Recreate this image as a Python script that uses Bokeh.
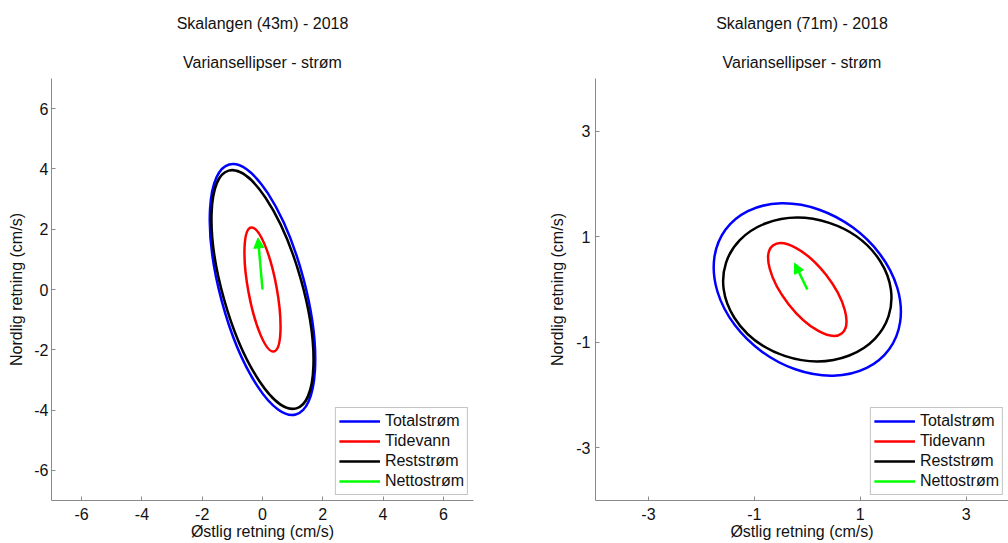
import numpy as np
from bokeh.plotting import figure
from bokeh.models import Title, Legend, LegendItem, Arrow, NormalHead, FixedTicker, Range1d
from bokeh.layouts import row
from bokeh.embed import file_html
from bokeh.resources import INLINE

FONT = "Liberation Sans"

# ---- data -------------------------------------------------------------
series_names = ["Totalstrøm", "Tidevann", "Reststrøm"]
series_colors = ["#0000ff", "#ff0000", "#000000"]
net_name = "Nettostrøm"
net_color = "#00ff00"

x_label = "Østlig retning (cm/s)"
y_label = "Nordlig retning (cm/s)"
subtitle = "Variansellipser - strøm"

# Skalangen 43 m
title_43 = "Skalangen (43m) - 2018"
ticks_43 = [-6, -4, -2, 0, 2, 4, 6]
center_x_43 = [0.0, 0.0, 0.0]
center_y_43 = [0.0, 0.0, 0.0]
semi_major_43 = [4.29, 2.09, 4.10]
semi_minor_43 = [1.405, 0.473, 1.316]
angle_deg_43 = [-75.1, -79.6, -74.1]
net_east_43 = -0.15
net_north_43 = 1.71

# Skalangen 71 m
title_71 = "Skalangen (71m) - 2018"
ticks_71 = [-3, -1, 1, 3]
center_x_71 = [0.0, 0.0, 0.0]
center_y_71 = [0.0, 0.0, 0.0]
semi_major_71 = [1.914, 1.054, 1.616]
semi_minor_71 = [1.459, 0.451, 1.330]
angle_deg_71 = [-36.1, -52.0, -18.2]
net_east_71 = -0.24
net_north_71 = 0.50


def make_panel(title_text, ticks, xr, yr, cx, cy, semi_major, semi_minor, angle_deg,
               net_e, net_n, width, b_left, b_right, ylab_standoff, ylab_axis_standoff,
               title_offset):
    p = figure(width=width, height=543, x_range=Range1d(*xr), y_range=Range1d(*yr),
               output_backend="svg", toolbar_location=None, title=None,
               min_border_left=b_left, min_border_right=b_right,
               min_border_top=77, min_border_bottom=43,
               background_fill_color="white", border_fill_color="white")
    p.outline_line_color = None
    p.grid.visible = False

    p.add_layout(Title(text=subtitle, align="center", text_font_size="16px",
                       text_font_style="normal", text_font=FONT, text_color="#111111",
                       standoff=15, offset=title_offset), "above")
    p.add_layout(Title(text=title_text, align="center", text_font_size="16px",
                       text_font_style="normal", text_font=FONT, text_color="#111111",
                       standoff=25, offset=title_offset), "above")

    p.xaxis.ticker = FixedTicker(ticks=ticks)
    p.yaxis.ticker = FixedTicker(ticks=ticks)
    overrides = {t: str(t) for t in ticks}
    for ax in p.axis:
        ax.major_label_overrides = overrides
        ax.major_tick_in = 4
        ax.major_tick_out = 0
        ax.minor_tick_in = 0
        ax.minor_tick_out = 0
        ax.axis_line_color = "#8a8a8a"
        ax.major_tick_line_color = "#8a8a8a"
        ax.major_label_text_font_size = "16px"
        ax.major_label_text_font = FONT
        ax.major_label_text_color = "#111111"
        ax.axis_label_text_font_size = "16px"
        ax.axis_label_text_font_style = "normal"
        ax.axis_label_text_font = FONT
        ax.axis_label_text_color = "#111111"
    p.xaxis.axis_label = x_label
    p.yaxis.axis_label = y_label
    p.xaxis.major_label_standoff = 7
    p.xaxis.axis_label_standoff = 0
    p.yaxis.major_label_standoff = ylab_standoff
    p.yaxis.axis_label_standoff = ylab_axis_standoff

    # variance ellipses
    p.ellipse(x=cx, y=cy,
              width=[2 * a for a in semi_major],
              height=[2 * b for b in semi_minor],
              angle=[np.radians(t) for t in angle_deg],
              fill_color=None, line_color=series_colors, line_width=2.5)

    # net current arrow
    p.add_layout(Arrow(x_start=0, y_start=0, x_end=net_e, y_end=net_n,
                       line_color=net_color, line_width=2.5,
                       end=NormalHead(size=10, fill_color=net_color, line_color=net_color)))

    # legend (proxy line renderers with no visible points)
    items = []
    for name, col in zip(series_names, series_colors):
        r = p.line(x=[np.nan], y=[np.nan], line_color=col, line_width=2.5)
        items.append(LegendItem(label=name, renderers=[r]))
    rn = p.line(x=[np.nan], y=[np.nan], line_color=net_color, line_width=2.5)
    items.append(LegendItem(label=net_name, renderers=[rn]))
    leg = Legend(items=items, location="bottom_right", margin=5, padding=3,
                 spacing=0, glyph_width=41, glyph_height=20, label_height=20,
                 label_standoff=5, label_text_font_size="16px", label_text_font=FONT,
                 label_text_color="#111111", border_line_color="#8a8a8a",
                 border_line_width=1, background_fill_color="white",
                 background_fill_alpha=1.0)
    p.add_layout(leg, "center")
    return p


p1 = make_panel(title_43, ticks_43, (-7, 7), (-7, 7), center_x_43, center_y_43,
                semi_major_43, semi_minor_43, angle_deg_43, net_east_43, net_north_43,
                width=504, b_left=51, b_right=31, ylab_standoff=3, ylab_axis_standoff=6,
                title_offset=-3)
p2 = make_panel(title_71, ticks_71, (-4, 3.8), (-4, 4), center_x_71, center_y_71,
                semi_major_71, semi_minor_71, angle_deg_71, net_east_71, net_north_71,
                width=504, b_left=91, b_right=0, ylab_standoff=5, ylab_axis_standoff=7,
                title_offset=4)

layout = row(p1, p2)
open("out.html", "w").write(file_html(layout, INLINE))
